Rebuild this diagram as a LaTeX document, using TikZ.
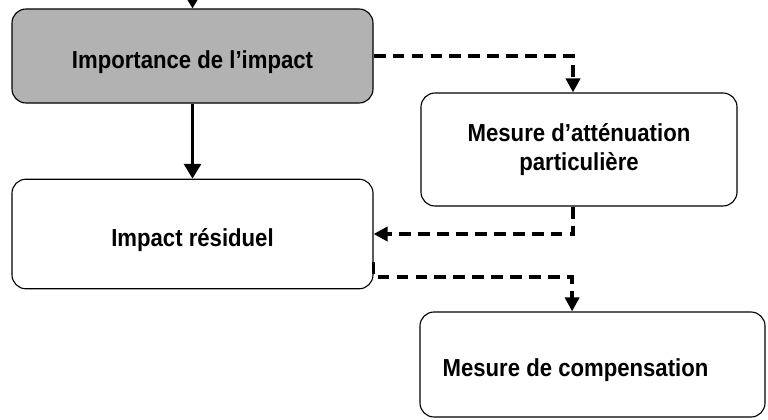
\documentclass[tikz,border=0pt]{standalone}
\usepackage{fontspec}
\setmainfont{Liberation Sans}[FakeStretch=0.9]
\usetikzlibrary{arrows.meta}

\begin{document}
\begin{tikzpicture}
  \tikzset{BOX/.style={draw, line width=0.8pt, rounded corners=0.35cm, inner sep=0pt, align=center,
                       font=\fontsize{17.5}{21}\selectfont\bfseries, execute at begin node=\rule{0pt}{21pt}},
           LNK/.style={line width=2.3pt, >={Triangle[length=10.5pt,width=12pt]}},
           DSH/.style={line width=2.7pt, dash pattern=on 8.5pt off 5pt, >={Triangle[length=10pt,width=10pt]}} }
  \useasboundingbox (0,0) rectangle (19.2,-10.475);

  \coordinate (top) at (4.8125, 0.0);

  \node[BOX, fill=gray!60, minimum width=9.025cm, minimum height=2.35cm] (imp) at (4.8125,-1.4) {Importance de l’impact};
  \node[BOX, minimum width=9.025cm, minimum height=2.74cm] (res) at (4.8125,-5.85) {Impact résiduel};

  \node[BOX, minimum width=7.9cm, minimum height=2.825cm] (att) at (14.475,-3.7375) {Mesure d’atténuation\\particulière};
  \node[BOX, minimum width=8.625cm, minimum height=2.625cm] (comp) at (14.8125,-9.1125) {Mesure de compensation\hspace*{0.85cm}};

  \draw[LNK,->] (top) -- (imp);
  \draw[LNK,->] (imp) -- (res);

  \draw[DSH,->] (imp.east) -| ([xshift=-0.15cm]att.north);
  \draw[DSH,->] ([xshift=-0.15cm]att.south) |- (res.east);
  \draw[DSH,->] ([yshift=-0.7cm]res.east) -- ++(0,-0.375) -| ([xshift=-0.51cm]comp.north);
\end{tikzpicture}
\end{document}
